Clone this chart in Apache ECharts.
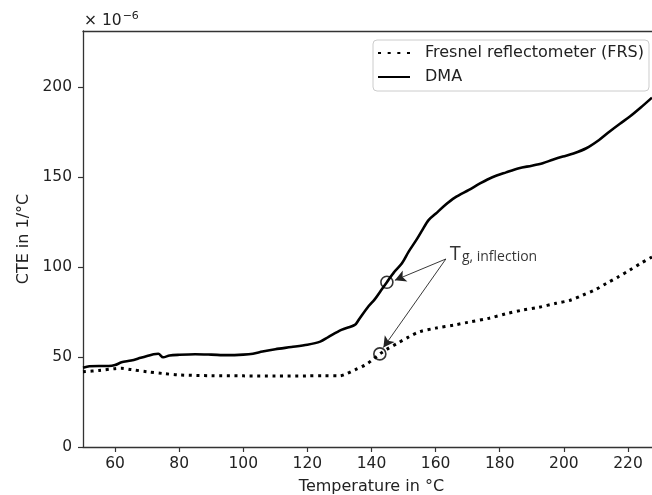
<!DOCTYPE html>
<html>
<head>
<meta charset="utf-8">
<script src="https://cdn.jsdelivr.net/npm/echarts@6/dist/echarts.min.js"></script>
<style>
html,body{margin:0;padding:0;background:#fff;}
#c{width:652px;height:495px;}
</style>
</head>
<body>
<div id="c"></div>
<script>
// ---- data (CTE in units of 1e-6 /°C) ----
const dmaT = [50,52,55,58,60,62,65,68,70,72,73.5,75,77,80,85,90,95,100,103,106,110,115,120,124,126.5,130.6,134.8,136,139,141,143,144.8,147,149.5,151.6,154,155.7,157.8,160,163,166,170.4,174,177.7,182,186,190,193.4,196.5,199.7,203,207,211,214.3,217.5,220.6,224,227.5];
const dmaV = [44,44.8,45,45,45.5,47,48,49.5,50.5,51.5,51.8,49.8,50.8,51.2,51.5,51.3,51,51.3,51.8,53,54.3,55.5,56.8,58.5,61,65,67.8,70.6,78,82,87,91.5,97,102,108.5,115,120,126,129.5,134.4,138.5,142.8,146.5,149.8,152.5,154.8,156.2,157.6,159.5,161.3,163,165.9,170.5,175.2,179.5,183.5,188.5,194];
const frsT = [50,55,60,62,65,70,75,80,90,100,110,120,125,130,132,135,138,140,142.6,145,148,151.5,155,160,166,170,176.7,182,187,192,197.6,202,206,210,213.3,217,220.6,224,227.5];
const frsV = [41.8,42.5,43.5,43.7,43,41.8,40.8,40,39.6,39.5,39.4,39.5,39.6,39.5,40.5,43,45.5,48,51.7,54.5,57.5,61,64,66,67.8,69.2,71.5,74,76,77.5,79.8,81.5,84.4,87.5,90.9,94.5,98.3,102,105.5];
const xTicks = [60,80,100,120,140,160,180,200,220];
const yTicks = [0,50,100,150,200];
const inflectionPts = [[144.8,91.5],[142.6,51.7]];
const annoAnchor = [163.2,104.4];
const arrowTips = [[147.3,92.6],[143.7,55.2]];
const seriesNames = ['Fresnel reflectometer (FRS)','DMA'];

const zip = (a,b)=>a.map((v,i)=>[v,b[i]]);
const FONT = 'DejaVu Sans';
const AX = '#333';

const chart = echarts.init(document.getElementById('c'), null, {renderer:'canvas'});
chart.setOption({
  animation:false,
  backgroundColor:'#fff',
  grid:{left:83, top:31, width:577, height:416, containLabel:false, outerBoundsMode:'none'},
  xAxis:[{
    type:'value', min:50, max:230,
    name:'Temperature in °C', nameLocation:'middle', nameGap:32,
    nameTextStyle:{fontFamily:FONT, fontSize:16, color:'#222'},
    axisLine:{show:true, onZero:false, lineStyle:{color:AX, width:1.3}},
    axisTick:{show:true, length:5, inside:false, customValues:xTicks, lineStyle:{color:AX, width:1.2}},
    axisLabel:{customValues:xTicks, fontFamily:FONT, fontSize:15.5, color:'#222', margin:9},
    splitLine:{show:false}
  },{
    type:'value', min:50, max:230, position:'top',
    axisLine:{show:true, onZero:false, lineStyle:{color:AX, width:1.3}},
    axisTick:{show:false}, axisLabel:{show:false}, splitLine:{show:false}
  }],
  yAxis:{
    type:'value', min:0, max:231,
    name:'CTE in 1/°C', nameLocation:'middle', nameGap:46, nameRotate:90,
    nameTextStyle:{fontFamily:FONT, fontSize:16, color:'#222'},
    axisLine:{show:true, onZero:false, lineStyle:{color:AX, width:1.3}},
    axisTick:{show:true, length:5, inside:false, customValues:yTicks, lineStyle:{color:AX, width:1.2}},
    axisLabel:{customValues:yTicks, fontFamily:FONT, fontSize:15.5, color:'#222', margin:11},
    splitLine:{show:false}
  },
  legend:{
    left:373, top:40, orient:'vertical',
    padding:[5,5,6,5], itemGap:8, itemWidth:32, itemHeight:10,
    borderColor:'#ccc', borderWidth:1, borderRadius:4, backgroundColor:'rgba(255,255,255,0.85)',
    textStyle:{fontFamily:FONT, fontSize:16, color:'#222', padding:[0,0,0,10], lineHeight:16},
    data:[
      {name:seriesNames[0], icon:'path://M0,4h3v2h-3zM9.6,4h3v2h-3zM19.2,4h3v2h-3zM28.8,4h3v2h-3z', itemStyle:{color:'#000'}},
      {name:seriesNames[1], icon:'path://M0,4h32v2h-32z', itemStyle:{color:'#000'}}
    ]
  },
  graphic:[
    {type:'text', left:84, top:11, style:{
      text:'{a|× 10}{b|−6}', rich:{
        a:{fontFamily:FONT, fontSize:15.5, fill:'#222', verticalAlign:'bottom', lineHeight:18},
        b:{fontFamily:FONT, fontSize:11, fill:'#222', verticalAlign:'top', padding:[0,0,10,1], lineHeight:18}
      }}}
  ],
  series:[
    {
      name:seriesNames[0], type:'line', data:zip(frsT,frsV), showSymbol:false, symbol:'none',
      smooth:0.3,
      lineStyle:{color:'#000', width:3, type:[3,4.6], cap:'butt'},
      itemStyle:{color:'#000'}, z:3
    },
    {
      name:seriesNames[1], type:'line', data:zip(dmaT,dmaV), showSymbol:false, symbol:'none',
      smooth:0.3,
      lineStyle:{color:'#000', width:2.6},
      itemStyle:{color:'#000'}, z:3
    },
    {
      name:'inflection', type:'scatter', data:inflectionPts, symbol:'circle', symbolSize:12,
      itemStyle:{color:'rgba(255,255,255,0)', borderColor:'#000', borderWidth:1.6}, z:5,
      markLine:{
        silent:true, symbol:['none','arrow'], symbolSize:[9,11],
        lineStyle:{color:'#222', width:0.9, type:'solid'},
        label:{show:false},
        data:[
          [{coord:annoAnchor},{coord:arrowTips[0]}],
          [{coord:annoAnchor},{coord:arrowTips[1]}]
        ]
      }
    },
    {
      name:'label', type:'scatter', data:[annoAnchor], symbolSize:0, silent:true,
      label:{show:true, position:'right', offset:[-1,-5], formatter:'{t|T}{s|g, inflection}',
        rich:{
          t:{fontFamily:'Open Sans', fontSize:20, color:'#000', verticalAlign:'bottom'},
          s:{fontFamily:'Open Sans', fontSize:14, color:'#000', verticalAlign:'bottom', padding:[0,0,0,1]}
        }}
    }
  ]
});
</script>
</body>
</html>
